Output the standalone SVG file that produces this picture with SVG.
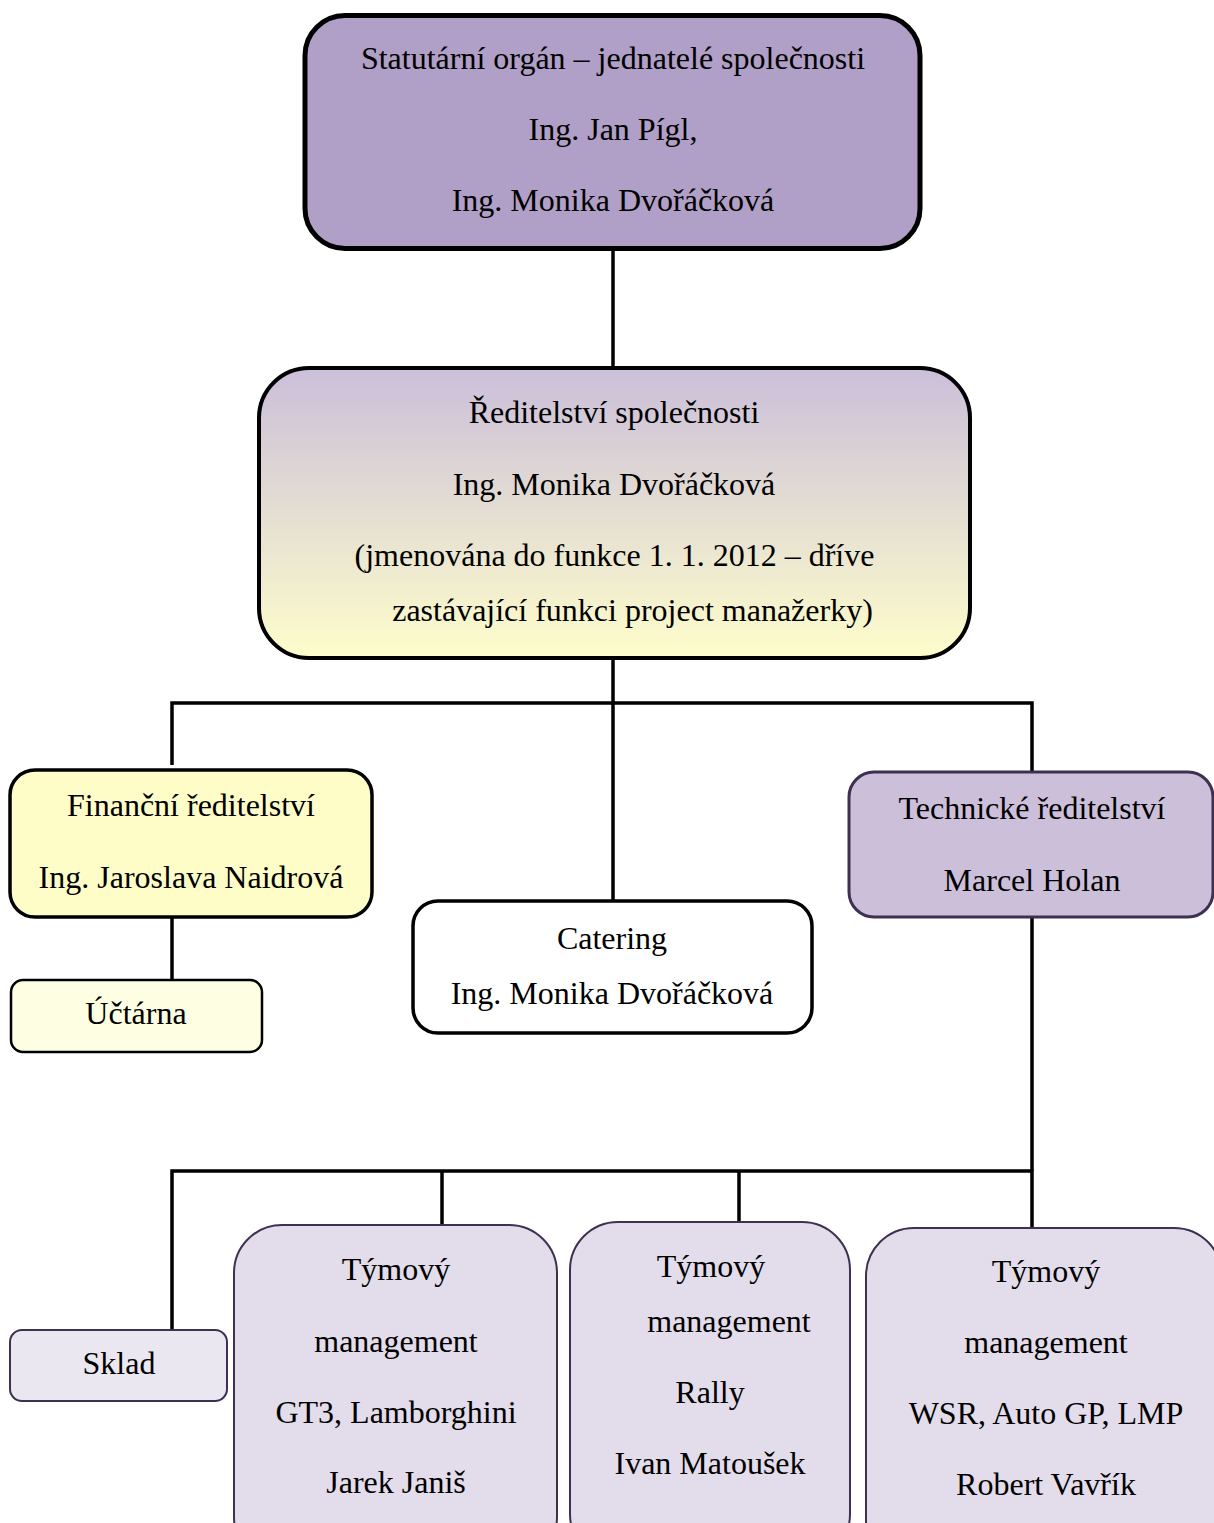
<svg xmlns="http://www.w3.org/2000/svg" width="1214" height="1523" viewBox="0 0 1214 1523">
<defs>
<linearGradient id="g2" x1="0" y1="0" x2="0" y2="1">
<stop offset="0" stop-color="#cbbfda"/>
<stop offset="1" stop-color="#fefdcb"/>
</linearGradient>
<style>
text{font-family:"Liberation Serif","Times New Roman",serif;font-size:32px;fill:#000;text-anchor:middle}
.cn{fill:none;stroke:#000;stroke-width:3.5}
.blk{stroke:#000}
.pur{stroke:#3d3050}
</style>
</defs>
<g id="connectors">
<path class="cn" d="M613 250V368"/>
<path class="cn" d="M613 658V900"/>
<path class="cn" d="M172 765V703H1032V772"/>
<path class="cn" d="M172 917V980"/>
<path class="cn" d="M1032 917V1171"/>
<path class="cn" d="M172 1330V1171H1032V1228"/>
<path class="cn" d="M442 1171V1225"/>
<path class="cn" d="M739 1171V1222"/>
</g>
<g id="statutarni">
<rect x="305" y="15.5" width="615" height="233" rx="40" fill="#b09fc6" class="blk" stroke-width="5"/>
<text x="613" y="69">Statutární orgán – jednatelé společnosti</text>
<text x="613" y="140">Ing. Jan Pígl,</text>
<text x="613" y="211">Ing. Monika Dvořáčková</text>
</g>
<g id="reditelstvi">
<rect x="259" y="368" width="711" height="290" rx="50" fill="url(#g2)" class="blk" stroke-width="4"/>
<text x="614" y="423">Ředitelství společnosti</text>
<text x="614" y="495">Ing. Monika Dvořáčková</text>
<text x="614.5" y="566">(jmenována do funkce 1. 1. 2012 – dříve</text>
<text x="632.5" y="621">zastávající funkci project manažerky)</text>
</g>
<g id="financni">
<rect x="10" y="770" width="362" height="147" rx="25" fill="#fefdc8" class="blk" stroke-width="3.5"/>
<text x="191" y="816">Finanční ředitelství</text>
<text x="191" y="888">Ing. Jaroslava Naidrová</text>
</g>
<g id="uctarna">
<rect x="11" y="980" width="251" height="72" rx="12" fill="#fefee2" class="blk" stroke-width="2.5"/>
<text x="136" y="1024">Účtárna</text>
</g>
<g id="catering">
<rect x="413" y="901" width="399" height="132" rx="25" fill="#fff" class="blk" stroke-width="3.5"/>
<text x="612" y="949">Catering</text>
<text x="612" y="1004">Ing. Monika Dvořáčková</text>
</g>
<g id="technicke">
<rect x="849" y="772" width="364" height="145" rx="25" fill="#ccbfda" class="pur" stroke-width="3"/>
<text x="1032" y="819">Technické ředitelství</text>
<text x="1032" y="891">Marcel Holan</text>
</g>
<g id="sklad">
<rect x="10" y="1330" width="217" height="71" rx="12" fill="#ebe7f0" class="pur" stroke-width="2"/>
<text x="119" y="1374">Sklad</text>
</g>
<g id="gt3">
<rect x="234" y="1225" width="323" height="340" rx="48" fill="#e3dcea" class="pur" stroke-width="2"/>
<text x="396" y="1280">Týmový</text>
<text x="396" y="1352">management</text>
<text x="396" y="1423">GT3, Lamborghini</text>
<text x="396" y="1493">Jarek Janiš</text>
</g>
<g id="rally">
<rect x="570" y="1222" width="280" height="340" rx="48" fill="#e3dcea" class="pur" stroke-width="2"/>
<text x="711" y="1277">Týmový</text>
<text x="729" y="1332">management</text>
<text x="710" y="1403">Rally</text>
<text x="710" y="1474">Ivan Matoušek</text>
</g>
<g id="wsr">
<rect x="866" y="1228" width="356" height="340" rx="48" fill="#e3dcea" class="pur" stroke-width="2"/>
<text x="1046" y="1282">Týmový</text>
<text x="1046" y="1353">management</text>
<text x="1046" y="1424">WSR, Auto GP, LMP</text>
<text x="1046" y="1495">Robert Vavřík</text>
</g>
</svg>
